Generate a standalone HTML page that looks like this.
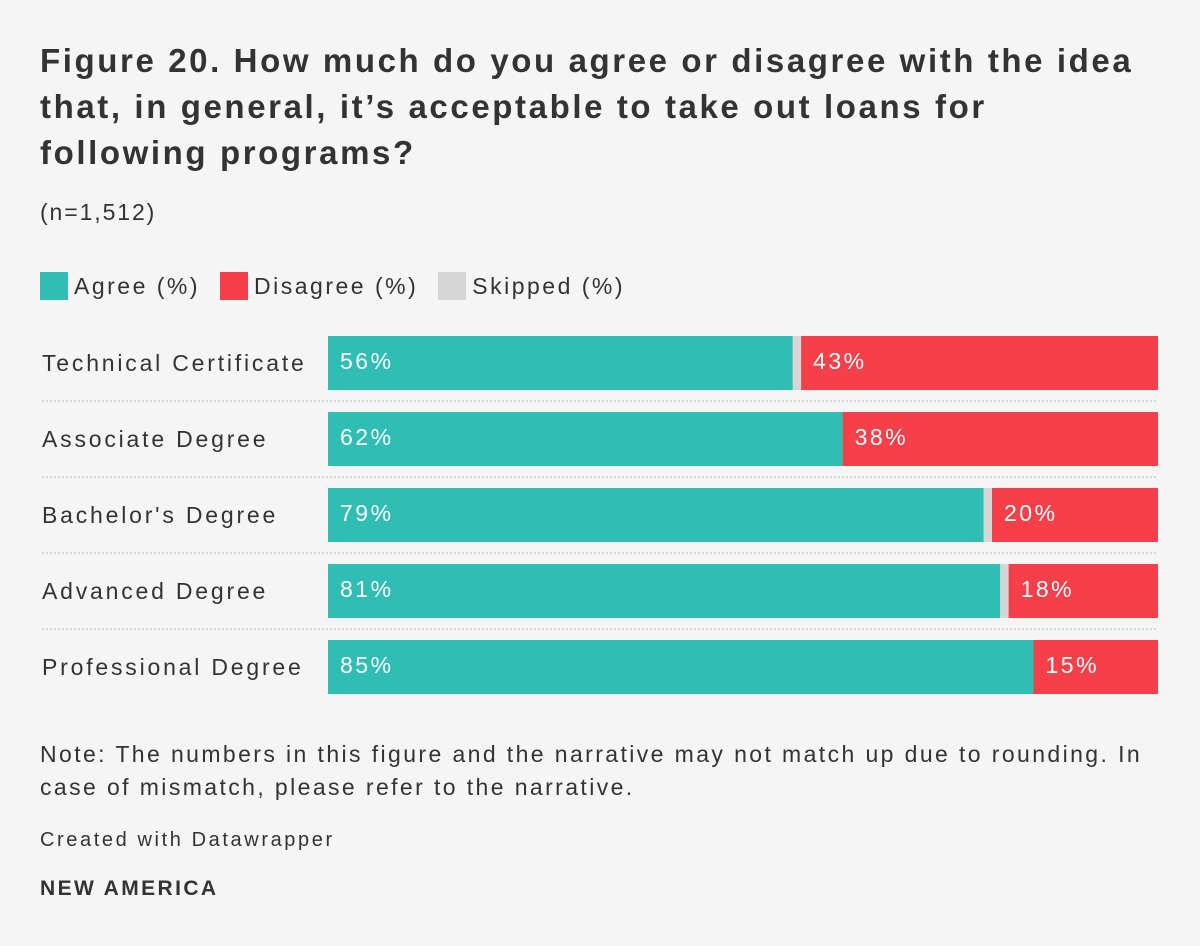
<!DOCTYPE html>
<html><head><meta charset="utf-8"><style>
body{margin:0;background:#f5f5f5;font-family:"Liberation Sans",sans-serif;color:#333;}
#c{position:relative;width:1200px;height:946px;}
.t{position:absolute;left:40px;top:38px;width:1125px;font-size:33px;font-weight:bold;line-height:46px;color:#333;letter-spacing:2.6px;}
.abs{position:absolute;}
</style></head><body>
<div id="c">
<div class="t">Figure 20. How much do you agree or disagree with the idea that, in general, it’s acceptable to take out loans for following programs?</div>
<div class="abs" style="left:40px;top:199px;font-size:23px;letter-spacing:1.9px">(n=1,512)</div>
<div class="abs" style="left:40px;top:272px;font-size:23px;display:flex;align-items:center;letter-spacing:2.5px">
<span style="display:inline-block;width:28px;height:28px;background:#2fbdb4;margin-right:6px"></span><span style="margin-right:20px">Agree (%)</span>
<span style="display:inline-block;width:28px;height:28px;background:#f5404a;margin-right:6px"></span><span style="margin-right:20px">Disagree (%)</span>
<span style="display:inline-block;width:28px;height:28px;background:#d6d6d6;margin-right:6px"></span><span>Skipped (%)</span>
</div>
<svg class="abs" style="left:0;top:0" width="1200" height="946" id="svg"></svg>
<div class="abs" style="left:40px;top:738px;width:1130px;font-size:23px;line-height:33px;letter-spacing:2.4px">Note: The numbers in this figure and the narrative may not match up due to rounding. In case of mismatch, please refer to the narrative.</div>
<div class="abs" style="left:40px;top:829px;font-size:20px;color:#333;letter-spacing:2.6px">Created with Datawrapper</div>
<div class="abs" style="left:40px;top:877px;font-size:21px;font-weight:bold;color:#333;letter-spacing:2.4px">NEW AMERICA</div>
</div>
<script>
const categories=["Technical Certificate","Associate Degree","Bachelor's Degree","Advanced Degree","Professional Degree"];
const agree=[56,62,79,81,85];
const skipped=[1,0,1,1,0];
const disagree=[43,38,20,18,15];
const svg=document.getElementById('svg');
const NS='http://www.w3.org/2000/svg';
const x0=328,x1=1158,top0=336,step=76,bh=54;
function mk(t,a){const e=document.createElementNS(NS,t);for(const k in a)e.setAttribute(k,a[k]);svg.appendChild(e);return e;}
categories.forEach((c,i)=>{
  const y=top0+i*step;
  const tot=agree[i]+skipped[i]+disagree[i];
  const sx=v=>v/tot*(x1-x0);
  let lab=mk('text',{x:42,y:y+35,'font-size':23,fill:'#333','font-family':'Liberation Sans','letter-spacing':2.8});lab.textContent=c;
  
  
  let x=x0;
  const segs=[[agree[i],'#2fbdb4','agree'],[skipped[i],'#d6d6d6','skipped'],[disagree[i],'#f5404a','disagree']];
  segs.forEach(s=>{
    const w=sx(s[0]);
    const r=mk('rect',{x:x,y:y,width:w,height:bh,fill:s[1]});
    
    
    if(s[2]!=='skipped'){
      const t=mk('text',{x:x+12,y:y+33,'font-size':23,fill:'#fff','font-family':'Liberation Sans','letter-spacing':2.5});
      t.textContent=s[0]+'%';
      
      
    }
    x+=w;
  });
  if(i<categories.length-1){
    const l=mk('line',{x1:42,x2:1158,y1:y+bh+11,y2:y+bh+11,stroke:'#bbb','stroke-dasharray':'2,2','stroke-width':1});
    
    
  }
});
</script>
</body></html>
